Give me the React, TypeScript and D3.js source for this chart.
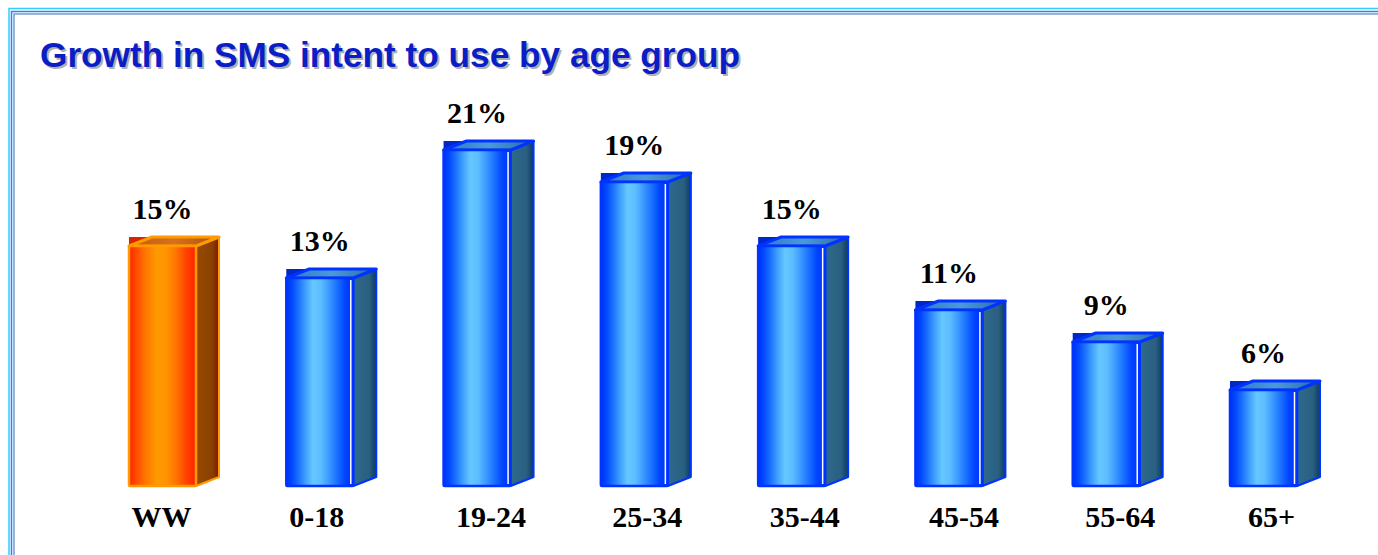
import React from "react";
import * as d3 from "d3";

const categories = ["WW", "0-18", "19-24", "25-34", "35-44", "45-54", "55-64", "65+"];
const values = [15, 13, 21, 19, 15, 11, 9, 6];
const valueLabels = ["15%", "13%", "21%", "19%", "15%", "11%", "9%", "6%"];
const highlight = ["WW"];
const title = "Growth in SMS intent to use by age group";

const W = 1378;
const H = 555;
const DX = 23;
const DY = 9;
const labelNudge = [-1, -3, 14, 13, 13, 15, 14, 8];

export default function App() {
  const x = d3
    .scaleBand<string>()
    .domain(categories)
    .range([129, 1297])
    .paddingInner(0.574)
    .paddingOuter(0);
  const y = d3.scaleLinear().domain([0, 21]).range([486, 150]);
  const bw = x.bandwidth();

  return (
    <svg
      width={W}
      height={H}
      style={{ position: "absolute", left: 0, top: 0, background: "#fff" }}
    >
      <defs>
        <linearGradient id="frontBlue" x1="0" x2="1" y1="0" y2="0">
          <stop offset="0%" stopColor="#0030f0" />
          <stop offset="8%" stopColor="#0048ff" />
          <stop offset="18%" stopColor="#1a70ff" />
          <stop offset="28%" stopColor="#3c9cff" />
          <stop offset="40%" stopColor="#66c8ff" />
          <stop offset="52%" stopColor="#5cbcff" />
          <stop offset="64%" stopColor="#3a98ff" />
          <stop offset="76%" stopColor="#1a70ff" />
          <stop offset="88%" stopColor="#0044ff" />
          <stop offset="100%" stopColor="#0030ff" />
        </linearGradient>
        <linearGradient id="frontOrange" x1="0" x2="1" y1="0" y2="0">
          <stop offset="0%" stopColor="#ff2200" />
          <stop offset="12%" stopColor="#ff5000" />
          <stop offset="26%" stopColor="#ff7a00" />
          <stop offset="42%" stopColor="#ff9a00" />
          <stop offset="56%" stopColor="#ff9400" />
          <stop offset="70%" stopColor="#ff7400" />
          <stop offset="85%" stopColor="#ff4400" />
          <stop offset="100%" stopColor="#ff2200" />
        </linearGradient>
        <linearGradient id="sideBlue" x1="0" x2="1" y1="0" y2="0">
          <stop offset="0%" stopColor="#2e6a8c" />
          <stop offset="70%" stopColor="#2a5f80" />
          <stop offset="100%" stopColor="#0a3a66" />
        </linearGradient>
        <linearGradient id="sideOrange" x1="0" x2="1" y1="0" y2="0">
          <stop offset="0%" stopColor="#9a4a00" />
          <stop offset="70%" stopColor="#8a4000" />
          <stop offset="100%" stopColor="#801800" />
        </linearGradient>
        <linearGradient id="topBlue" x1="0" x2="1" y1="0" y2="0">
          <stop offset="0%" stopColor="#2a78c8" />
          <stop offset="50%" stopColor="#4a9ad8" />
          <stop offset="100%" stopColor="#2a6aa8" />
        </linearGradient>
        <linearGradient id="topOrange" x1="0" x2="1" y1="0" y2="0">
          <stop offset="0%" stopColor="#c05a10" />
          <stop offset="50%" stopColor="#d87020" />
          <stop offset="100%" stopColor="#b05010" />
        </linearGradient>
      </defs>

      {/* frame */}
      <path d={`M9,${H + 5} V8.5 H${W + 5}`} fill="none" stroke="#33ccff" strokeWidth={1.5} />
      <path d={`M11.5,${H + 5} V11.5 H${W + 5}`} fill="none" stroke="#1a88ff" strokeWidth={1.5} />
      <path d={`M14,${H + 5} V14 H${W + 5}`} fill="none" stroke="#7c9acc" strokeWidth={1.5} />

      {/* title */}
      <text
        x={42}
        y={69}
        fontFamily="'Liberation Sans', Arial, sans-serif"
        fontWeight="bold"
        fontSize={35}
        fill="#b0b0b0"
        textLength={700}
        lengthAdjust="spacingAndGlyphs"
      >
        {title}
      </text>
      <text
        x={40}
        y={67}
        fontFamily="'Liberation Sans', Arial, sans-serif"
        fontWeight="bold"
        fontSize={35}
        fill="#0a1ec8"
        textLength={700}
        lengthAdjust="spacingAndGlyphs"
      >
        {title}
      </text>

      {categories.map((c, i) => {
        const v = values[i];
        const x0 = x(c)!;
        const x1 = x0 + bw;
        const top = y(v);
        const bottom = y(0);
        const hi = highlight.includes(c);
        const outline = hi ? "#ff9a00" : "#0033ff";
        const backFill = hi ? "#dd2200" : "#0028c8";
        return (
          <g key={c}>
            {/* back */}
            <rect
              x={x0}
              y={top - DY}
              width={bw + DX}
              height={bottom - top}
              fill={backFill}
            />
            {/* side */}
            <path
              d={`M${x1},${top} L${x1 + DX},${top - DY} L${x1 + DX},${bottom - DY} L${x1},${bottom} Z`}
              fill={hi ? "url(#sideOrange)" : "url(#sideBlue)"}
              stroke={outline}
              strokeWidth={2}
              strokeLinejoin="round"
            />
            {/* top */}
            <path
              d={`M${x0},${top} L${x0 + DX},${top - DY} L${x1 + DX},${top - DY} L${x1},${top} Z`}
              fill={hi ? "url(#topOrange)" : "url(#topBlue)"}
              stroke={outline}
              strokeWidth={3}
              strokeLinejoin="round"
            />
            {/* front */}
            <rect
              x={x0}
              y={top}
              width={bw}
              height={bottom - top}
              fill={hi ? "url(#frontOrange)" : "url(#frontBlue)"}
              stroke={outline}
              strokeWidth={2.5}
              rx={1}
            />
            {!hi && (
              <line
                x1={x1 - 2.5}
                x2={x1 - 2.5}
                y1={top + 2}
                y2={bottom - 2}
                stroke="#ffffff"
                strokeWidth={1.5}
              />
            )}
            {/* value label */}
            <text
              x={x0 + bw / 2}
              y={top - 27}
              textAnchor="middle"
              fontFamily="'Liberation Serif', 'Times New Roman', serif"
              fontWeight="bold"
              fontSize={30}
              fill="#000"
            >
              {valueLabels[i]}
            </text>
            {/* category label */}
            <text
              x={x0 + bw / 2 + labelNudge[i]}
              y={527}
              textAnchor="middle"
              fontFamily="'Liberation Serif', 'Times New Roman', serif"
              fontWeight="bold"
              fontSize={30}
              fill="#000"
            >
              {c}
            </text>
          </g>
        );
      })}
    </svg>
  );
}
